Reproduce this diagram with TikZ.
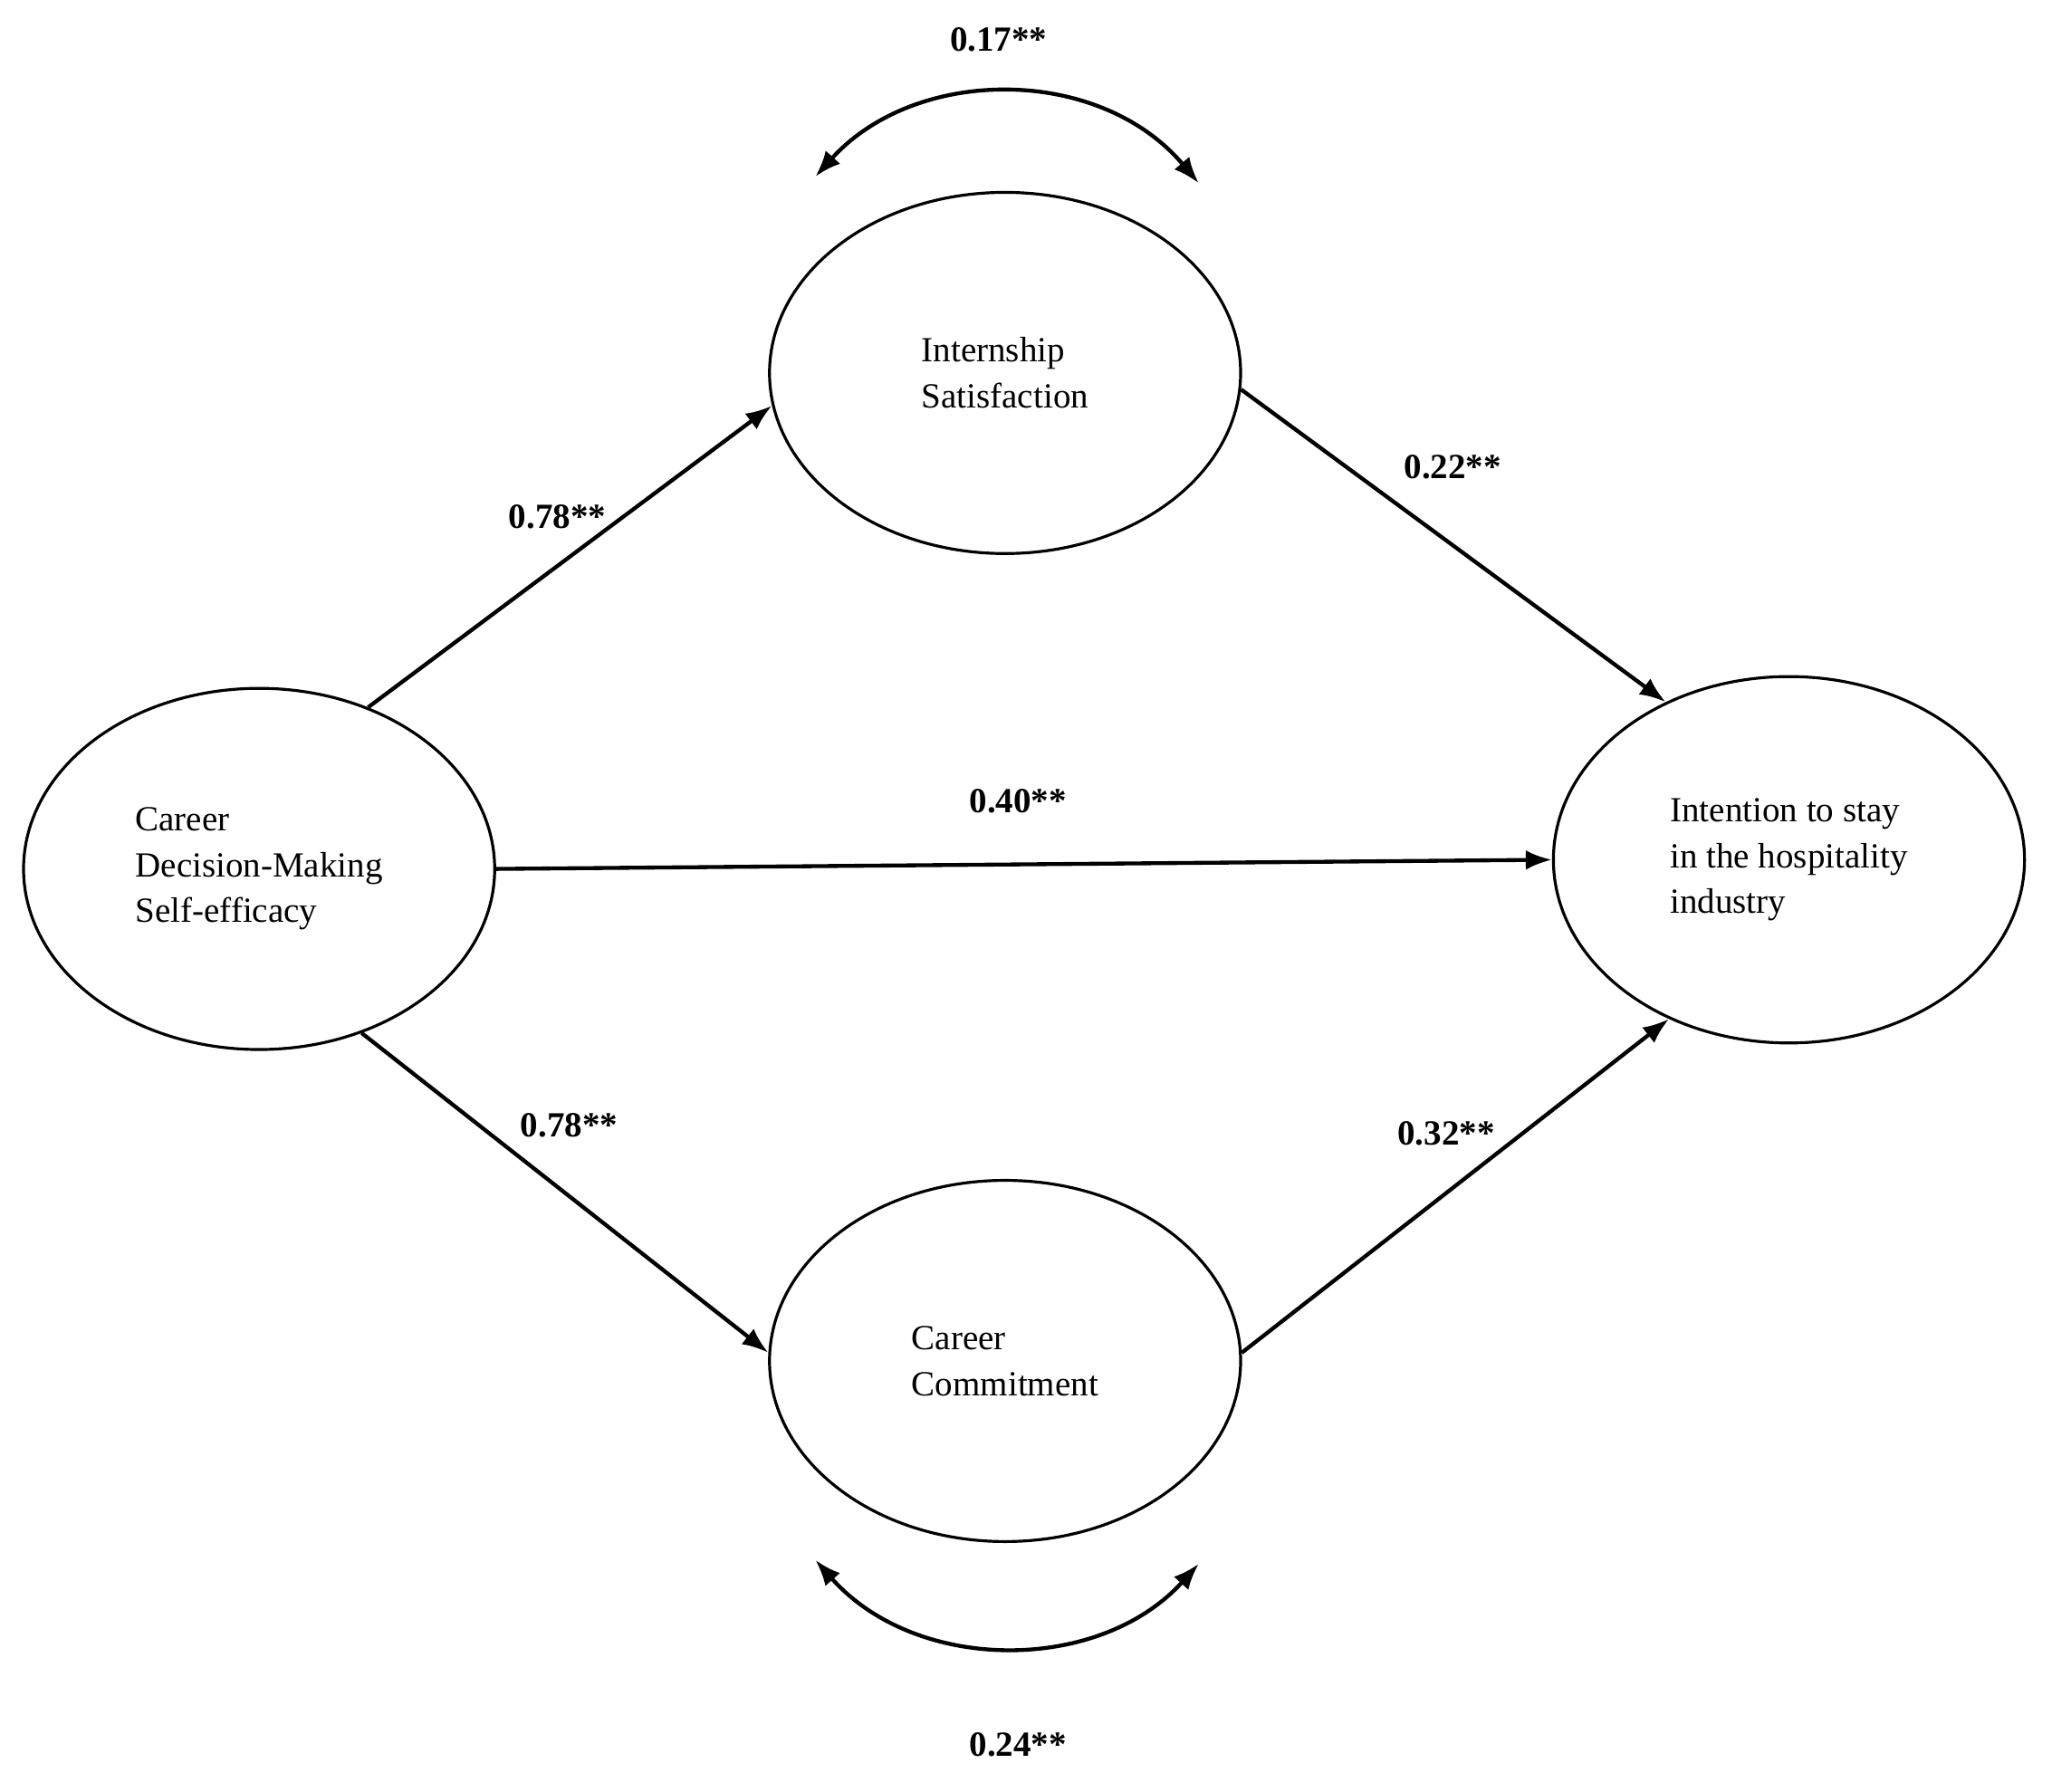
\documentclass[tikz,border=0pt]{standalone}
\usepackage{fontspec}
\setmainfont{Liberation Serif}
\usetikzlibrary{shapes.geometric,arrows.meta}
\begin{document}
\begin{tikzpicture}[x=1pt,y=-1pt,
  var/.style={draw,line width=2.2pt,ellipse,minimum width=360pt,minimum height=276pt,inner sep=0pt,align=left,font=\fontsize{27}{35}\selectfont},
  path/.style={line width=3pt,-{Latex[length=20pt,width=15pt]}},
  cov/.style={line width=3pt,{Latex[length=20pt,width=15pt]}-{Latex[length=20pt,width=15pt]}},
  lab/.style={font=\fontsize{27}{32}\selectfont\bfseries}]
\useasboundingbox[fill=white] (0,0) rectangle (1568,1369);
\node[var] (L) at (198,664) {Career\\Decision-Making\\Self-efficacy};
\node[var] (T) at (768,285) {Internship\\Satisfaction};
\node[var] (B) at (768,1040) {Career\\Commitment};
\node[var,minimum height=280pt] (R) at (1367,657) {Intention to stay\\in the hospitality\\industry};
\draw[path] (L.56) -- (T.188);
\draw[path] (T.-4) -- (R.128);
\draw[path] (L.0) -- (R.180);
\draw[path] (L.-58) -- (B.178);
\draw[path] (B.2) -- (R.233);
\coordinate (t1) at (623,135); \coordinate (t2) at (916,140);
\coordinate (b1) at (623,1192); \coordinate (b2) at (916,1195);
\draw[cov] (t1) .. controls (700,50) and (840,50) .. (t2);
\draw[cov] (b1) .. controls (700,1279) and (840,1279) .. (b2);
\node[lab] (l1) at (763,30) {0.17**};
\node[lab] (l2) at (426,395) {0.78**};
\node[lab] (l3) at (1110,357) {0.22**};
\node[lab] (l4) at (778,612) {0.40**};
\node[lab] (l5) at (435,860) {0.78**};
\node[lab] (l6) at (1105,866) {0.32**};
\node[lab] (l7) at (778,1333) {0.24**};
\end{tikzpicture}
\end{document}
